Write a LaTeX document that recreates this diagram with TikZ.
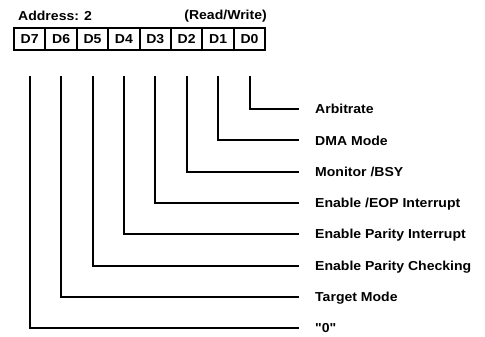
\documentclass[tikz,border=0pt]{standalone}
\usepackage{fontspec}
\setmainfont{Liberation Sans}[FakeStretch=1.08]
\newfontfamily\plainq{Liberation Sans}[FakeStretch=1.08]
\begin{document}
\begin{tikzpicture}[x=1pt,y=-1pt, line join=miter, line cap=butt,
	font=\fontsize{13}{15}\selectfont\bfseries,
	bit/.style={draw, line width=2pt, minimum width=31.4pt, minimum height=22pt, inner sep=0pt},
	lbl/.style={anchor=west, inner sep=0pt, text height=9.4pt, text depth=0pt},
	wire/.style={line width=2pt, shorten >=16pt}]
	\useasboundingbox (0,0) rectangle (485,337);
	\def\xo{14} \def\w{31.4} \def\ytop{109} \def\dy{31.3} % Register-Maße
	\node[anchor=base west, inner sep=0pt] (addr) at (18,21) {Address: 2};
	\node[anchor=base east, inner sep=0pt] (rw) at (267,20) {(Read/Write)};
	\foreach \i in {7,...,0}
		\node[bit] (d\i) at ({\xo+\w*(7-\i)+\w/2},39) {D\i};
	\foreach \i/\txt in {0/Arbitrate, 1/DMA Mode, 2/{Monitor /BSY}, 3/{Enable /EOP Interrupt},
		4/Enable Parity Interrupt, 5/Enable Parity Checking, 6/Target Mode, 7/{{\plainq\bfseries "0"}}}
	{
		\node[lbl] (b\i) at (315,{\ytop+\dy*\i}) {\txt};
		\draw[wire] (d\i.south) ++(0,25) |- (b\i.west);
	}
\end{tikzpicture}
\end{document}
